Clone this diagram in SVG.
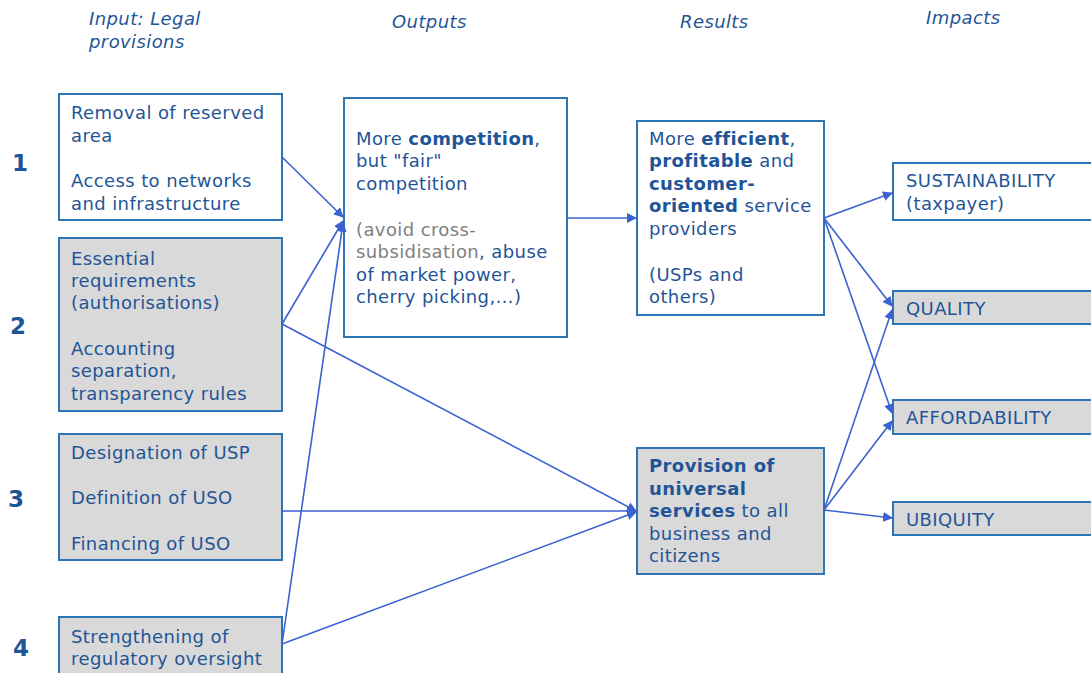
<svg xmlns="http://www.w3.org/2000/svg" width="1091" height="673" viewBox="0 0 1091 673">
<style>
text{font-family:"DejaVu Sans","Verdana",sans-serif;font-size:18px;fill:#1f5597;letter-spacing:0.4px}
.h{font-style:italic}
.n{font-weight:bold;font-size:23px}
.b{font-weight:bold}
.g{fill:#7f7f7f}
.w{fill:#ffffff;stroke:#2e75b6;stroke-width:2}
.s{fill:#d9d9d9;stroke:#2e75b6;stroke-width:2}
.c line{stroke:#3a62d0;stroke-width:1.6;fill:none}
</style>
<defs>
<marker id="a" viewBox="0 0 10 10" refX="9" refY="5" markerWidth="10" markerHeight="10" markerUnits="userSpaceOnUse" orient="auto">
<path d="M0,0 L10,5 L0,10 Z" fill="#3a62d0"/>
</marker>
</defs>
<rect width="1091" height="673" fill="#ffffff"/>
<g id="headers">
<text class="h" x="89" y="25">Input: Legal</text>
<text class="h" x="89" y="48">provisions</text>
<text class="h" x="392" y="28">Outputs</text>
<text class="h" x="680" y="28">Results</text>
<text class="h" x="926" y="24">Impacts</text>
</g>
<g id="numbers">
<text class="n" x="12" y="171">1</text>
<text class="n" x="10" y="334">2</text>
<text class="n" x="8" y="507">3</text>
<text class="n" x="13" y="656">4</text>
</g>
<g id="in1">
<rect class="w" x="59" y="94" width="223" height="126"/>
<text x="71" y="119">Removal of reserved</text>
<text x="71" y="142">area</text>
<text x="71" y="187">Access to networks</text>
<text x="71" y="210">and infrastructure</text>
</g>
<g id="in2">
<rect class="s" x="59" y="238" width="223" height="173"/>
<text x="71" y="265">Essential</text>
<text x="71" y="287">requirements</text>
<text x="71" y="309">(authorisations)</text>
<text x="71" y="355">Accounting</text>
<text x="71" y="377">separation,</text>
<text x="71" y="400">transparency rules</text>
</g>
<g id="in3">
<rect class="s" x="59" y="434" width="223" height="126"/>
<text x="71" y="459">Designation of USP</text>
<text x="71" y="504">Definition of USO</text>
<text x="71" y="550">Financing of USO</text>
</g>
<g id="in4">
<rect class="s" x="59" y="617" width="223" height="80"/>
<text x="71" y="643">Strengthening of</text>
<text x="71" y="665">regulatory oversight</text>
</g>
<g id="outputs">
<rect class="w" x="344" y="98" width="223" height="239"/>
<text x="356" y="145">More <tspan class="b">competition</tspan>,</text>
<text x="356" y="167">but "fair"</text>
<text x="356" y="190">competition</text>
<text x="356" y="236" class="g">(avoid cross-</text>
<text x="356" y="258"><tspan class="g">subsidisation</tspan>, abuse</text>
<text x="356" y="281">of market power,</text>
<text x="356" y="303">cherry picking,…)</text>
</g>
<g id="res1">
<rect class="w" x="637" y="121" width="187" height="194"/>
<text x="649" y="145">More <tspan class="b">efficient</tspan>,</text>
<text x="649" y="167"><tspan class="b">profitable</tspan> and</text>
<text x="649" y="190" class="b">customer-</text>
<text x="649" y="212"><tspan class="b">oriented</tspan> service</text>
<text x="649" y="235">providers</text>
<text x="649" y="281">(USPs and</text>
<text x="649" y="303">others)</text>
</g>
<g id="res2">
<rect class="s" x="637" y="448" width="187" height="126"/>
<text x="649" y="472" class="b">Provision of</text>
<text x="649" y="495" class="b">universal</text>
<text x="649" y="517"><tspan class="b">services</tspan> to all</text>
<text x="649" y="540">business and</text>
<text x="649" y="562">citizens</text>
</g>
<g id="imp1">
<rect class="w" x="893" y="163" width="210" height="57"/>
<text x="906" y="187">SUSTAINABILITY</text>
<text x="906" y="210">(taxpayer)</text>
</g>
<g id="imp2">
<rect class="s" x="893" y="291" width="210" height="33"/>
<text x="906" y="315">QUALITY</text>
</g>
<g id="imp3">
<rect class="s" x="893" y="400" width="210" height="34"/>
<text x="906" y="424">AFFORDABILITY</text>
</g>
<g id="imp4">
<rect class="s" x="893" y="502" width="210" height="33"/>
<text x="906" y="526">UBIQUITY</text>
</g>
<g id="connectors" class="c">
<line x1="282" y1="157" x2="343" y2="217" marker-end="url(#a)"/>
<line x1="282" y1="324" x2="343" y2="221" marker-end="url(#a)"/>
<line x1="282" y1="644" x2="343" y2="223" marker-end="url(#a)"/>
<line x1="282" y1="324" x2="636" y2="511" marker-end="url(#a)"/>
<line x1="282" y1="511" x2="636" y2="511" marker-end="url(#a)"/>
<line x1="282" y1="644" x2="636" y2="512" marker-end="url(#a)"/>
<line x1="567" y1="218" x2="636" y2="218" marker-end="url(#a)"/>
<line x1="824" y1="218" x2="892" y2="193" marker-end="url(#a)"/>
<line x1="824" y1="218" x2="892" y2="306" marker-end="url(#a)"/>
<line x1="824" y1="218" x2="892" y2="413" marker-end="url(#a)"/>
<line x1="824" y1="510" x2="892" y2="310" marker-end="url(#a)"/>
<line x1="824" y1="510" x2="892" y2="421" marker-end="url(#a)"/>
<line x1="824" y1="510" x2="892" y2="518" marker-end="url(#a)"/>
</g>
</svg>
